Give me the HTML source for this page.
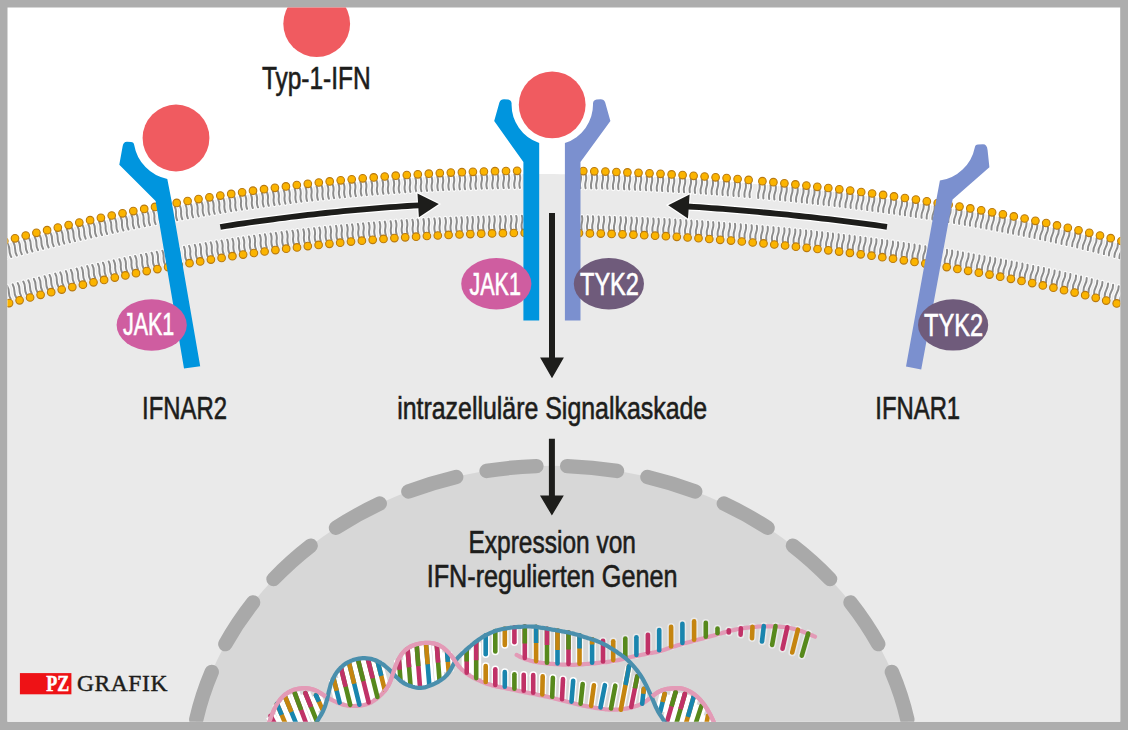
<!DOCTYPE html>
<html lang="de"><head><meta charset="utf-8"><title>Typ-1-IFN Signalweg</title>
<style>
html,body{margin:0;padding:0;background:#adadad;}
body{width:1128px;height:730px;overflow:hidden;}
svg{display:block;font-family:"Liberation Sans",sans-serif;}
</style></head><body>
<svg width="1128" height="730" viewBox="0 0 1128 730">
<defs><clipPath id="clip"><rect x="7.5" y="7.5" width="1112.7" height="714.2"/></clipPath></defs>
<rect x="7.5" y="7.5" width="1112.7" height="714.2" fill="#fff"/>
<g clip-path="url(#clip)">
<path d="M-20.0,251.3 L-12.0,249.1 L-4.1,246.9 L3.9,244.8 L11.8,242.6 L19.8,240.6 L27.8,238.5 L35.7,236.5 L43.7,234.5 L51.6,232.6 L59.6,230.7 L67.6,228.8 L75.5,227.0 L83.5,225.1 L91.4,223.4 L99.4,221.6 L107.3,219.9 L115.3,218.2 L123.3,216.6 L131.2,215.0 L139.2,213.4 L147.1,211.8 L155.1,210.3 L163.1,208.8 L171.0,207.3 L179.0,205.9 L186.9,204.5 L194.9,203.2 L202.9,201.8 L210.8,200.5 L218.8,199.3 L226.7,198.0 L234.7,196.8 L242.7,195.6 L250.6,194.5 L258.6,193.4 L266.5,192.3 L274.5,191.2 L282.4,190.2 L290.4,189.2 L298.4,188.3 L306.3,187.3 L314.3,186.5 L322.2,185.6 L330.2,184.8 L338.2,184.0 L346.1,183.2 L354.1,182.5 L362.0,181.8 L370.0,181.1 L378.0,180.4 L385.9,179.8 L393.9,179.3 L401.8,178.7 L409.8,178.2 L417.8,177.7 L425.7,177.3 L433.7,176.8 L441.6,176.4 L449.6,176.1 L457.6,175.7 L465.5,175.5 L473.5,175.2 L481.4,174.9 L489.4,174.7 L497.3,174.6 L505.3,174.4 L513.3,174.3 L521.2,174.2 L529.2,174.1 L537.1,174.1 L545.1,174.1 L553.1,174.1 L561.0,174.2 L569.0,174.3 L576.9,174.4 L584.9,174.5 L592.9,174.7 L600.8,174.9 L608.8,175.1 L616.7,175.4 L624.7,175.7 L632.7,176.0 L640.6,176.3 L648.6,176.7 L656.5,177.0 L664.5,177.5 L672.4,177.9 L680.4,178.4 L688.4,178.8 L696.3,179.4 L704.3,179.9 L712.2,180.5 L720.2,181.1 L728.2,181.7 L736.1,182.3 L744.1,183.0 L752.0,183.7 L760.0,184.4 L768.0,185.1 L775.9,185.9 L783.9,186.6 L791.8,187.4 L799.8,188.3 L807.8,189.1 L815.7,190.0 L823.7,190.9 L831.6,191.8 L839.6,192.8 L847.6,193.7 L855.5,194.7 L863.5,195.8 L871.4,196.8 L879.4,197.9 L887.3,199.0 L895.3,200.1 L903.3,201.2 L911.2,202.4 L919.2,203.6 L927.1,204.8 L935.1,206.0 L943.1,207.3 L951.0,208.6 L959.0,209.9 L966.9,211.3 L974.9,212.7 L982.9,214.1 L990.8,215.5 L998.8,217.0 L1006.7,218.5 L1014.7,220.0 L1022.7,221.6 L1030.6,223.2 L1038.6,224.9 L1046.5,226.6 L1054.5,228.3 L1062.4,230.1 L1070.4,231.9 L1078.4,233.7 L1086.3,235.6 L1094.3,237.6 L1102.2,239.6 L1110.2,241.6 L1118.2,243.7 L1126.1,245.9 L1134.1,248.1 L1142.0,250.3 L1150.0,252.7 L1150,760 L-20,760 Z" fill="#eaeaea"/>
<ellipse cx="551.8" cy="781.5" rx="362.6" ry="315.7" fill="#d7d7d7"/>
<path d="M551.8,465.8 A362.6,315.7 0 0 1 914.4,781.5" fill="none" stroke="#a9a9a9" stroke-width="14.4" stroke-linecap="round" stroke-dasharray="50 31" stroke-dashoffset="-15.5"/>
<path d="M551.8,465.8 A362.6,315.7 0 0 0 189.19999999999993,781.5" fill="none" stroke="#a9a9a9" stroke-width="14.4" stroke-linecap="round" stroke-dasharray="50 31" stroke-dashoffset="-15.5"/>
<path d="M270.6,715.8L276.0,726.0M277.0,703.8L286.4,726.0M284.8,696.0L298.0,728.0M294.8,693.1L307.5,727.0M305.4,693.1L316.7,720.8M316.0,695.2L322.4,709.4M333.7,679.0L339.6,702.6M341.1,668.5L350.2,704.9M349.0,662.8L359.4,704.7M358.0,659.8L368.7,702.4M368.0,659.4L377.4,697.0M377.8,662.1L384.7,689.7M398.9,659.8L400.5,679.9M407.6,649.4L410.5,685.1M416.7,645.3L420.0,686.9M426.0,643.8L429.3,684.8M436.8,645.2L439.5,680.0M447.1,652.1L448.7,671.7M466.7,650.3L466.7,672.7M476.2,642.5L476.2,678.1M664.7,693.8L660.3,711.4M675.6,692.2L666.4,724.0M684.9,693.8L676.2,724.0M693.7,696.6L685.8,724.0M701.4,705.9L695.5,724.0M707.9,715.8L706.4,724.0" fill="none" stroke="#fff" stroke-opacity="1.0" stroke-width="10.0" stroke-linecap="butt"/>
<path d="M485.7,635.3L485.7,654.3M495.3,631.0L495.3,651.5M504.8,628.5L504.8,645.0M514.4,627.3L514.4,642.2M524.8,626.5L524.8,658.0M536.1,626.9L536.1,661.1M547.0,628.7L547.0,662.7M557.5,630.5L557.5,663.5M568.5,632.6L568.5,664.0M579.5,635.4L579.5,663.7M592.1,639.4L592.1,662.7M485.7,666.0L485.7,682.0M495.3,669.3L495.3,684.9M504.8,672.0L504.8,686.8M514.4,674.2L514.4,688.8M523.7,674.8L523.7,690.8M533.2,675.0L533.2,692.7M542.7,676.4L542.3,694.5M552.9,677.8L552.2,696.8M563.0,679.1L562.0,699.2M573.2,680.8L571.5,701.6M582.7,684.1L580.6,703.8M593.9,685.2L591.1,705.9M604.9,685.2L600.5,707.5M615.3,685.7L611.0,708.5M629.0,666.4L620.8,709.7M637.3,676.3L631.2,707.0M643.8,688.9L642.2,703.7" fill="none" stroke="#fff" stroke-opacity="0.9" stroke-width="7.4" stroke-linecap="butt"/>
<path d="M603.0,640.8L603.0,661.4M613.2,641.3L613.2,660.1M625.3,638.6L625.3,657.3M636.4,637.3L636.4,654.9M647.9,634.8L647.9,652.6M659.2,630.1L659.2,650.3M671.1,626.7L671.1,646.5M682.4,623.8L682.4,643.0M694.1,621.4L694.1,639.8M705.8,622.8L705.8,636.7M717.5,628.6L717.5,633.3M728.8,632.5L728.8,630.2M740.9,628.3L740.6,634.7M752.5,626.7L752.0,638.2M763.8,626.1L762.0,641.5M775.5,626.1L772.1,644.9M787.3,627.3L782.5,648.7M797.9,629.7L792.2,652.5M808.2,633.5L801.8,655.7" fill="none" stroke="#fff" stroke-opacity="0.45" stroke-width="7.6" stroke-linecap="round"/>
<g fill="#fff"><circle cx="485.7" cy="654.3" r="3.7"/><circle cx="495.3" cy="651.5" r="3.7"/><circle cx="504.8" cy="645.0" r="3.7"/><circle cx="514.4" cy="642.2" r="3.7"/><circle cx="485.7" cy="666.0" r="3.7"/><circle cx="495.3" cy="669.3" r="3.7"/><circle cx="504.8" cy="672.0" r="3.7"/><circle cx="514.4" cy="674.2" r="3.7"/><circle cx="523.7" cy="674.8" r="3.7"/><circle cx="533.2" cy="675.0" r="3.7"/><circle cx="542.7" cy="676.4" r="3.7"/><circle cx="552.9" cy="677.8" r="3.7"/><circle cx="563.0" cy="679.1" r="3.7"/><circle cx="573.2" cy="680.8" r="3.7"/><circle cx="582.7" cy="684.1" r="3.7"/><circle cx="593.9" cy="685.2" r="3.7"/><circle cx="604.9" cy="685.2" r="3.7"/><circle cx="615.3" cy="685.7" r="3.7"/></g>
<path d="M516.6,654.9 L518.6,656.0 L520.6,657.0 L522.6,657.9 L524.6,658.8 L526.5,659.5 L528.5,660.1 L530.5,660.7 L532.5,661.1 L534.5,661.6 L536.5,662.0 L538.5,662.4 L540.5,662.7 L542.5,663.0 L544.5,663.2 L546.4,663.4 L548.4,663.6 L550.4,663.8 L552.4,663.9 L554.4,664.1 L556.4,664.2 L558.4,664.3 L560.4,664.5 L562.4,664.6 L564.3,664.7 L566.3,664.7 L568.3,664.8 L570.3,664.8 L572.3,664.8 L574.3,664.8 L576.3,664.7 L578.3,664.6 L580.3,664.5 L582.2,664.3 L584.2,664.1 L586.2,664.0 L588.2,663.8 L590.2,663.6 L592.2,663.4 L594.2,663.3 L596.2,663.1 L598.2,662.9 L600.2,662.7 L602.1,662.5 L604.1,662.3 L606.1,662.1 L608.1,661.8 L610.1,661.5 L612.1,661.2 L614.1,660.9 L616.1,660.5 L618.1,660.1 L620.0,659.6 L622.0,659.1 L624.0,658.6 L626.0,658.1 L628.0,657.6 L630.0,657.2 L632.0,656.8 L634.0,656.4 L636.0,656.0 L637.9,655.6 L639.9,655.2 L641.9,654.8 L643.9,654.4 L645.9,654.0 L647.9,653.6 L649.9,653.2 L651.9,652.9 L653.9,652.5 L655.9,652.1 L657.8,651.6 L659.8,651.1 L661.8,650.6 L663.8,650.0 L665.8,649.3 L667.8,648.6 L669.8,647.9 L671.8,647.2 L673.8,646.6 L675.7,646.0 L677.7,645.3 L679.7,644.7 L681.7,644.2 L683.7,643.6 L685.7,643.0 L687.7,642.5 L689.7,642.0 L691.7,641.4 L693.7,640.9 L695.6,640.4 L697.6,639.8 L699.6,639.3 L701.6,638.8 L703.6,638.3 L705.6,637.7 L707.6,637.2 L709.6,636.6 L711.6,636.0 L713.5,635.5 L715.5,634.9 L717.5,634.3 L719.5,633.7 L721.5,633.2 L723.5,632.6 L725.5,632.1 L727.5,631.5 L729.5,631.0 L731.4,630.5 L733.4,630.1 L735.4,629.6 L737.4,629.2 L739.4,628.8 L741.4,628.5 L743.4,628.2 L745.4,627.9 L747.4,627.6 L749.4,627.4 L751.3,627.1 L753.3,627.0 L755.3,626.8 L757.3,626.7 L759.3,626.5 L761.3,626.4 L763.3,626.4 L765.3,626.3 L767.3,626.3 L769.2,626.3 L771.2,626.3 L773.2,626.3 L775.2,626.4 L777.2,626.5 L779.2,626.6 L781.2,626.8 L783.2,627.0 L785.2,627.2 L787.1,627.5 L789.1,627.9 L791.1,628.3 L793.1,628.7 L795.1,629.2 L797.1,629.8 L799.1,630.4 L801.1,631.0 L803.1,631.8 L805.1,632.5 L807.0,633.3 L809.0,634.1 L811.0,635.0 L813.0,635.8 L815.0,636.7" fill="none" stroke="#e39ab6" stroke-width="4.2" stroke-linecap="round" stroke-linejoin="round"/>
<path d="M262.0,740.0 L264.0,735.2 L266.0,730.4 L268.0,725.4 L270.0,720.1 L272.0,714.7 L274.0,709.9 L276.0,705.9 L278.0,702.5 L280.0,699.7 L282.0,697.5 L284.0,695.5 L285.9,694.0 L287.9,692.6 L289.9,691.5 L291.9,690.6 L293.9,689.8 L295.9,689.2 L297.9,688.8 L299.9,688.5 L301.9,688.3 L303.9,688.2 L305.9,688.2 L307.9,688.4 L309.9,688.7 L311.9,689.2 L313.9,689.8 L315.9,690.6 L317.9,691.5 L319.9,692.7 L321.9,694.0 L323.9,695.2 L325.9,696.5 L327.9,697.7 L329.9,698.8 L331.8,699.9 L333.8,700.9 L335.8,701.9 L337.8,702.8 L339.8,703.6 L341.8,704.3 L343.8,704.9 L345.8,705.3 L347.8,705.7 L349.8,705.9 L351.8,706.0 L353.8,706.0 L355.8,705.9 L357.8,705.8 L359.8,705.6 L361.8,705.3 L363.8,705.0 L365.8,704.5 L367.8,703.8 L369.8,703.0 L371.8,702.0 L373.8,700.8 L375.8,699.4 L377.7,697.8 L379.7,696.1 L381.7,694.2 L383.7,692.1 L385.7,689.7 L387.7,686.7 L389.7,682.7 L391.7,677.5 L393.7,671.3 L395.7,665.6 L397.7,660.9 L399.7,657.2 L401.7,654.2 L403.7,651.8 L405.7,649.8 L407.7,648.3 L409.7,647.0 L411.7,646.0 L413.7,645.2 L415.7,644.5 L417.7,644.0 L419.7,643.6 L421.7,643.2 L423.6,643.0 L425.6,642.8 L427.6,642.8 L429.6,642.9 L431.6,643.1 L433.6,643.4 L435.6,643.9 L437.6,644.6 L439.6,645.5 L441.6,646.7 L443.6,648.1 L445.6,649.8 L447.6,651.7 L449.6,653.9 L451.6,656.3 L453.6,659.0 L455.6,661.9 L457.6,664.7 L459.6,667.2 L461.6,669.4 L463.6,671.2 L465.6,672.8 L467.6,674.3 L469.5,675.5 L471.5,676.7 L473.5,677.8 L475.5,678.8 L477.5,679.8 L479.5,680.7 L481.5,681.6 L483.5,682.4 L485.5,683.2 L487.5,683.9 L489.5,684.5 L491.5,685.1 L493.5,685.6 L495.5,686.1 L497.5,686.6 L499.5,687.0 L501.5,687.4 L503.5,687.8 L505.5,688.2 L507.5,688.6 L509.5,689.0 L511.5,689.4 L513.4,689.8 L515.4,690.3 L517.4,690.7 L519.4,691.1 L521.4,691.5 L523.4,692.0 L525.4,692.4 L527.4,692.7 L529.4,693.1 L531.4,693.5 L533.4,693.9 L535.4,694.3 L537.4,694.7 L539.4,695.1 L541.4,695.5 L543.4,695.9 L545.4,696.4 L547.4,696.8 L549.4,697.3 L551.4,697.8 L553.4,698.2 L555.4,698.7 L557.4,699.2 L559.3,699.7 L561.3,700.3 L563.3,700.8 L565.3,701.3 L567.3,701.8 L569.3,702.3 L571.3,702.8 L573.3,703.3 L575.3,703.8 L577.3,704.2 L579.3,704.7 L581.3,705.1 L583.3,705.6 L585.3,706.0 L587.3,706.4 L589.3,706.8 L591.3,707.2 L593.3,707.5 L595.3,707.9 L597.3,708.2 L599.3,708.5 L601.3,708.8 L603.3,709.0 L605.2,709.3 L607.2,709.5 L609.2,709.6 L611.2,709.7 L613.2,709.7 L615.2,709.7 L617.2,709.6 L619.2,709.5 L621.2,709.3 L623.2,709.0 L625.2,708.7 L627.2,708.4 L629.2,707.9 L631.2,707.5 L633.2,706.9 L635.2,706.3 L637.2,705.7 L639.2,704.9 L641.2,704.0 L643.2,703.0 L645.2,701.7 L647.2,700.3 L649.2,698.8 L651.1,697.2 L653.1,695.6 L655.1,694.1 L657.1,692.7 L659.1,691.6 L661.1,690.6 L663.1,689.9 L665.1,689.3 L667.1,688.9 L669.1,688.6 L671.1,688.4 L673.1,688.2 L675.1,688.1 L677.1,688.1 L679.1,688.2 L681.1,688.4 L683.1,688.8 L685.1,689.4 L687.1,690.2 L689.1,691.1 L691.1,692.2 L693.1,693.5 L695.1,695.0 L697.0,696.6 L699.0,698.5 L701.0,700.7 L703.0,703.1 L705.0,705.8 L707.0,708.9 L709.0,712.3 L711.0,716.1 L713.0,720.3 L715.0,724.9 L717.0,729.9 L719.0,735.0" fill="none" stroke="#e39ab6" stroke-width="4.2" stroke-linejoin="round"/>
<g fill="none" stroke-width="4.6"><path d="M270.6,715.8L276.0,726.0" stroke="#c03267" stroke-linecap="round"/><path d="M277.0,703.8L286.4,726.0" stroke="#c5850f" stroke-linecap="round"/><path d="M277.0,703.8L281.7,714.9" stroke="#1985ae" stroke-linecap="butt"/><circle cx="277.0" cy="703.8" r="2.3" fill="#1985ae" stroke="none"/><path d="M284.8,696.0L298.0,728.0" stroke="#1985ae" stroke-linecap="round"/><path d="M284.8,696.0L291.4,712.0" stroke="#c5850f" stroke-linecap="butt"/><circle cx="284.8" cy="696.0" r="2.3" fill="#c5850f" stroke="none"/><path d="M294.8,693.1L307.5,727.0" stroke="#c03267" stroke-linecap="round"/><path d="M294.8,693.1L301.1,710.0" stroke="#57891c" stroke-linecap="butt"/><circle cx="294.8" cy="693.1" r="2.3" fill="#57891c" stroke="none"/><path d="M305.4,693.1L316.7,720.8" stroke="#57891c" stroke-linecap="round"/><path d="M305.4,693.1L311.0,707.0" stroke="#c03267" stroke-linecap="butt"/><circle cx="305.4" cy="693.1" r="2.3" fill="#c03267" stroke="none"/><path d="M316.0,695.2L322.4,709.4" stroke="#c5850f" stroke-linecap="round"/><path d="M316.0,695.2L318.9,701.6" stroke="#1985ae" stroke-linecap="butt"/><circle cx="316.0" cy="695.2" r="2.3" fill="#1985ae" stroke="none"/><path d="M333.7,679.0L339.6,702.6" stroke="#1985ae" stroke-linecap="round"/><path d="M333.7,679.0L336.7,690.8" stroke="#c5850f" stroke-linecap="butt"/><circle cx="333.7" cy="679.0" r="2.3" fill="#c5850f" stroke="none"/><path d="M341.1,668.5L350.2,704.9" stroke="#57891c" stroke-linecap="round"/><path d="M341.1,668.5L345.6,686.7" stroke="#c03267" stroke-linecap="butt"/><circle cx="341.1" cy="668.5" r="2.3" fill="#c03267" stroke="none"/><path d="M349.0,662.8L359.4,704.7" stroke="#1985ae" stroke-linecap="round"/><path d="M349.0,662.8L354.2,683.7" stroke="#c5850f" stroke-linecap="butt"/><circle cx="349.0" cy="662.8" r="2.3" fill="#c5850f" stroke="none"/><path d="M358.0,659.8L368.7,702.4" stroke="#c03267" stroke-linecap="round"/><path d="M358.0,659.8L363.4,681.1" stroke="#57891c" stroke-linecap="butt"/><circle cx="358.0" cy="659.8" r="2.3" fill="#57891c" stroke="none"/><path d="M368.0,659.4L377.4,697.0" stroke="#57891c" stroke-linecap="round"/><path d="M368.0,659.4L372.7,678.2" stroke="#c03267" stroke-linecap="butt"/><circle cx="368.0" cy="659.4" r="2.3" fill="#c03267" stroke="none"/><path d="M377.8,662.1L384.7,689.7" stroke="#c5850f" stroke-linecap="round"/><path d="M377.8,662.1L381.3,675.9" stroke="#1985ae" stroke-linecap="butt"/><circle cx="377.8" cy="662.1" r="2.3" fill="#1985ae" stroke="none"/><path d="M398.9,659.8L400.5,679.9" stroke="#57891c" stroke-linecap="round"/><path d="M398.9,659.8L399.7,669.8" stroke="#c03267" stroke-linecap="butt"/><circle cx="398.9" cy="659.8" r="2.3" fill="#c03267" stroke="none"/><path d="M407.6,649.4L410.5,685.1" stroke="#57891c" stroke-linecap="round"/><path d="M407.6,649.4L409.1,667.2" stroke="#c03267" stroke-linecap="butt"/><circle cx="407.6" cy="649.4" r="2.3" fill="#c03267" stroke="none"/><path d="M416.7,645.3L420.0,686.9" stroke="#c03267" stroke-linecap="round"/><path d="M416.7,645.3L418.3,666.1" stroke="#57891c" stroke-linecap="butt"/><circle cx="416.7" cy="645.3" r="2.3" fill="#57891c" stroke="none"/><path d="M426.0,643.8L429.3,684.8" stroke="#1985ae" stroke-linecap="round"/><path d="M426.0,643.8L427.7,664.3" stroke="#c5850f" stroke-linecap="butt"/><circle cx="426.0" cy="643.8" r="2.3" fill="#c5850f" stroke="none"/><path d="M436.8,645.2L439.5,680.0" stroke="#57891c" stroke-linecap="round"/><path d="M436.8,645.2L438.1,662.6" stroke="#c03267" stroke-linecap="butt"/><circle cx="436.8" cy="645.2" r="2.3" fill="#c03267" stroke="none"/><path d="M447.1,652.1L448.7,671.7" stroke="#c5850f" stroke-linecap="round"/><path d="M447.1,652.1L447.9,661.9" stroke="#1985ae" stroke-linecap="butt"/><circle cx="447.1" cy="652.1" r="2.3" fill="#1985ae" stroke="none"/><path d="M466.7,650.3L466.7,672.7" stroke="#c03267" stroke-linecap="round"/><path d="M466.7,650.3L466.7,661.5" stroke="#57891c" stroke-linecap="butt"/><circle cx="466.7" cy="650.3" r="2.3" fill="#57891c" stroke="none"/><path d="M476.2,642.5L476.2,678.1" stroke="#57891c" stroke-linecap="round"/><path d="M476.2,642.5L476.2,660.3" stroke="#c03267" stroke-linecap="butt"/><circle cx="476.2" cy="642.5" r="2.3" fill="#c03267" stroke="none"/><path d="M485.7,635.3L485.7,654.3" stroke="#1985ae" stroke-linecap="round"/><path d="M495.3,631.0L495.3,651.5" stroke="#57891c" stroke-linecap="round"/><path d="M504.8,628.5L504.8,645.0" stroke="#c5850f" stroke-linecap="round"/><path d="M514.4,627.3L514.4,642.2" stroke="#c03267" stroke-linecap="round"/><path d="M524.8,626.5L524.8,658.0" stroke="#c03267" stroke-linecap="round"/><path d="M524.8,626.5L524.8,643.4" stroke="#57891c" stroke-linecap="butt"/><circle cx="524.8" cy="626.5" r="2.3" fill="#57891c" stroke="none"/><path d="M536.1,626.9L536.1,661.1" stroke="#c5850f" stroke-linecap="round"/><path d="M536.1,626.9L536.1,642.9" stroke="#1985ae" stroke-linecap="butt"/><circle cx="536.1" cy="626.9" r="2.3" fill="#1985ae" stroke="none"/><path d="M547.0,628.7L547.0,662.7" stroke="#57891c" stroke-linecap="round"/><path d="M547.0,628.7L547.0,645.1" stroke="#c03267" stroke-linecap="butt"/><circle cx="547.0" cy="628.7" r="2.3" fill="#c03267" stroke="none"/><path d="M557.5,630.5L557.5,663.5" stroke="#1985ae" stroke-linecap="round"/><path d="M557.5,630.5L557.5,650.0" stroke="#c5850f" stroke-linecap="butt"/><circle cx="557.5" cy="630.5" r="2.3" fill="#c5850f" stroke="none"/><path d="M568.5,632.6L568.5,664.0" stroke="#c03267" stroke-linecap="round"/><path d="M568.5,632.6L568.5,649.5" stroke="#57891c" stroke-linecap="butt"/><circle cx="568.5" cy="632.6" r="2.3" fill="#57891c" stroke="none"/><path d="M579.5,635.4L579.5,663.7" stroke="#c5850f" stroke-linecap="round"/><path d="M579.5,635.4L579.5,648.4" stroke="#1985ae" stroke-linecap="butt"/><circle cx="579.5" cy="635.4" r="2.3" fill="#1985ae" stroke="none"/><path d="M592.1,639.4L592.1,662.7" stroke="#1985ae" stroke-linecap="round"/><path d="M592.1,639.4L592.1,644.5" stroke="#c5850f" stroke-linecap="butt"/><circle cx="592.1" cy="639.4" r="2.3" fill="#c5850f" stroke="none"/><path d="M485.7,666.0L485.7,682.0" stroke="#c5850f" stroke-linecap="round"/><path d="M495.3,669.3L495.3,684.9" stroke="#c03267" stroke-linecap="round"/><path d="M504.8,672.0L504.8,686.8" stroke="#1985ae" stroke-linecap="round"/><path d="M514.4,674.2L514.4,688.8" stroke="#57891c" stroke-linecap="round"/><path d="M523.7,674.8L523.7,690.8" stroke="#c03267" stroke-linecap="round"/><path d="M533.2,675.0L533.2,692.7" stroke="#c03267" stroke-linecap="round"/><path d="M542.7,676.4L542.3,694.5" stroke="#c5850f" stroke-linecap="round"/><path d="M552.9,677.8L552.2,696.8" stroke="#57891c" stroke-linecap="round"/><path d="M563.0,679.1L562.0,699.2" stroke="#c03267" stroke-linecap="round"/><path d="M573.2,680.8L571.5,701.6" stroke="#1985ae" stroke-linecap="round"/><path d="M582.7,684.1L580.6,703.8" stroke="#57891c" stroke-linecap="round"/><path d="M593.9,685.2L591.1,705.9" stroke="#c5850f" stroke-linecap="round"/><path d="M604.9,685.2L600.5,707.5" stroke="#1985ae" stroke-linecap="round"/><path d="M615.3,685.7L611.0,708.5" stroke="#57891c" stroke-linecap="round"/><path d="M629.0,666.4L620.8,709.7" stroke="#c5850f" stroke-linecap="round"/><path d="M629.0,666.4L625.5,685.0" stroke="#1985ae" stroke-linecap="butt"/><circle cx="629.0" cy="666.4" r="2.3" fill="#1985ae" stroke="none"/><path d="M637.3,676.3L631.2,707.0" stroke="#c03267" stroke-linecap="round"/><path d="M637.3,676.3L634.9,688.4" stroke="#57891c" stroke-linecap="butt"/><circle cx="637.3" cy="676.3" r="2.3" fill="#57891c" stroke="none"/><path d="M643.8,688.9L642.2,703.7" stroke="#1985ae" stroke-linecap="round"/><path d="M643.8,688.9L643.3,693.8" stroke="#c5850f" stroke-linecap="butt"/><circle cx="643.8" cy="688.9" r="2.3" fill="#c5850f" stroke="none"/><path d="M664.7,693.8L660.3,711.4" stroke="#1985ae" stroke-linecap="round"/><path d="M664.7,693.8L662.6,702.0" stroke="#c5850f" stroke-linecap="butt"/><circle cx="664.7" cy="693.8" r="2.3" fill="#c5850f" stroke="none"/><path d="M675.6,692.2L666.4,724.0" stroke="#c03267" stroke-linecap="round"/><path d="M675.6,692.2L671.5,706.4" stroke="#57891c" stroke-linecap="butt"/><circle cx="675.6" cy="692.2" r="2.3" fill="#57891c" stroke="none"/><path d="M684.9,693.8L676.2,724.0" stroke="#57891c" stroke-linecap="round"/><path d="M684.9,693.8L680.5,709.2" stroke="#c03267" stroke-linecap="butt"/><circle cx="684.9" cy="693.8" r="2.3" fill="#c03267" stroke="none"/><path d="M693.7,696.6L685.8,724.0" stroke="#c5850f" stroke-linecap="round"/><path d="M693.7,696.6L687.9,716.8" stroke="#1985ae" stroke-linecap="butt"/><circle cx="693.7" cy="696.6" r="2.3" fill="#1985ae" stroke="none"/><path d="M701.4,705.9L695.5,724.0" stroke="#57891c" stroke-linecap="round"/><path d="M707.9,715.8L706.4,724.0" stroke="#c5850f" stroke-linecap="round"/><path d="M603.0,640.8L603.0,661.4" stroke="#c03267" stroke-linecap="round"/><path d="M613.2,641.3L613.2,660.1" stroke="#c5850f" stroke-linecap="round"/><path d="M625.3,638.6L625.3,657.3" stroke="#57891c" stroke-linecap="round"/><path d="M636.4,637.3L636.4,654.9" stroke="#1985ae" stroke-linecap="round"/><path d="M647.9,634.8L647.9,652.6" stroke="#c03267" stroke-linecap="round"/><path d="M659.2,630.1L659.2,650.3" stroke="#1985ae" stroke-linecap="round"/><path d="M671.1,626.7L671.1,646.5" stroke="#c5850f" stroke-linecap="round"/><path d="M682.4,623.8L682.4,643.0" stroke="#1985ae" stroke-linecap="round"/><path d="M694.1,621.4L694.1,639.8" stroke="#c5850f" stroke-linecap="round"/><path d="M705.8,622.8L705.8,636.7" stroke="#57891c" stroke-linecap="round"/><path d="M717.5,628.6L717.5,633.3" stroke="#57891c" stroke-linecap="round"/><path d="M728.8,632.5L728.8,630.2" stroke="#c03267" stroke-linecap="round"/><path d="M740.9,628.3L740.6,634.7" stroke="#c03267" stroke-linecap="round"/><path d="M752.5,626.7L752.0,638.2" stroke="#c5850f" stroke-linecap="round"/><path d="M763.8,626.1L762.0,641.5" stroke="#1985ae" stroke-linecap="round"/><path d="M775.5,626.1L772.1,644.9" stroke="#57891c" stroke-linecap="round"/><path d="M787.3,627.3L782.5,648.7" stroke="#c03267" stroke-linecap="round"/><path d="M797.9,629.7L792.2,652.5" stroke="#c5850f" stroke-linecap="round"/><path d="M808.2,633.5L801.8,655.7" stroke="#57891c" stroke-linecap="round"/></g>
<path d="M309.0,740.0 L311.0,734.8 L313.0,729.9 L315.0,725.5 L317.0,721.7 L319.0,718.3 L321.0,714.9 L323.0,711.2 L325.0,706.4 L327.0,699.9 L328.9,691.2 L330.9,683.8 L332.9,678.9 L334.9,675.2 L336.9,672.1 L338.9,669.6 L340.9,667.5 L342.9,665.7 L344.9,664.1 L346.9,662.9 L348.9,661.8 L350.9,660.9 L352.9,660.1 L354.9,659.5 L356.9,659.0 L358.9,658.6 L360.9,658.4 L362.9,658.2 L364.8,658.2 L366.8,658.3 L368.8,658.5 L370.8,658.9 L372.8,659.4 L374.8,660.0 L376.8,660.8 L378.8,661.8 L380.8,662.9 L382.8,664.3 L384.8,665.8 L386.8,667.5 L388.8,669.3 L390.8,671.3 L392.8,673.3 L394.8,675.4 L396.8,677.4 L398.8,679.3 L400.7,681.0 L402.7,682.4 L404.7,683.6 L406.7,684.6 L408.7,685.4 L410.7,686.1 L412.7,686.7 L414.7,687.2 L416.7,687.6 L418.7,687.9 L420.7,687.9 L422.7,687.7 L424.7,687.4 L426.7,686.8 L428.7,686.1 L430.7,685.3 L432.7,684.5 L434.7,683.6 L436.6,682.7 L438.6,681.6 L440.6,680.3 L442.6,678.9 L444.6,677.3 L446.6,675.3 L448.6,672.9 L450.6,669.9 L452.6,666.1 L454.6,662.3 L456.6,659.3 L458.6,656.9 L460.6,654.9 L462.6,653.0 L464.6,651.2 L466.6,649.4 L468.6,647.7 L470.6,646.0 L472.5,644.3 L474.5,642.7 L476.5,641.2 L478.5,639.8 L480.5,638.4 L482.5,637.1 L484.5,635.9 L486.5,634.8 L488.5,633.8 L490.5,632.9 L492.5,632.1 L494.5,631.3 L496.5,630.6 L498.5,630.0 L500.5,629.5 L502.5,629.0 L504.5,628.6 L506.5,628.3 L508.5,628.0 L510.4,627.7 L512.4,627.5 L514.4,627.3 L516.4,627.1 L518.4,626.9 L520.4,626.8 L522.4,626.7 L524.4,626.5 L526.4,626.5 L528.4,626.5 L530.4,626.5 L532.4,626.6 L534.4,626.7 L536.4,627.0 L538.4,627.2 L540.4,627.6 L542.4,627.9 L544.4,628.2 L546.3,628.5 L548.3,628.9 L550.3,629.2 L552.3,629.6 L554.3,629.9 L556.3,630.3 L558.3,630.6 L560.3,631.0 L562.3,631.4 L564.3,631.7 L566.3,632.1 L568.3,632.5 L570.3,633.0 L572.3,633.4 L574.3,633.9 L576.3,634.5 L578.3,635.1 L580.3,635.6 L582.2,636.3 L584.2,636.9 L586.2,637.5 L588.2,638.2 L590.2,638.8 L592.2,639.4 L594.2,640.1 L596.2,640.8 L598.2,641.6 L600.2,642.4 L602.2,643.3 L604.2,644.3 L606.2,645.4 L608.2,646.5 L610.2,647.7 L612.2,649.0 L614.2,650.3 L616.2,651.6 L618.1,652.9 L620.1,654.2 L622.1,655.6 L624.1,657.1 L626.1,658.7 L628.1,660.5 L630.1,662.5 L632.1,664.6 L634.1,666.9 L636.1,669.3 L638.1,671.9 L640.1,674.7 L642.1,677.9 L644.1,681.4 L646.1,685.2 L648.1,689.3 L650.1,693.6 L652.1,698.0 L654.0,702.7 L656.0,707.3 L658.0,711.3 L660.0,714.6 L662.0,717.7 L664.0,720.8 L666.0,723.9 L668.0,727.2 L670.0,730.6 L672.0,734.0" fill="none" stroke="#4a8fad" stroke-width="4.2" stroke-linejoin="round"/>
<path d="M262.0,740.0 L263.9,735.4 L265.9,730.7 L267.8,725.8 L269.8,720.7 L271.7,715.4 L273.6,710.7 L275.6,706.6 L277.5,703.2 L279.5,700.4 L281.4,698.1 L283.3,696.1 L285.3,694.5 L287.2,693.1 L289.2,691.9 L291.1,690.9 L293.0,690.1 L295.0,689.5 L296.9,689.0 L298.8,688.6 L300.8,688.4 L302.7,688.2 L304.7,688.2 L306.6,688.3 L308.5,688.5 L310.5,688.8 L312.4,689.3 L314.4,689.9 L316.3,690.7 L318.2,691.8 L320.2,692.9 L322.1,694.1 L324.1,695.4 L326.0,696.6" fill="none" stroke="#e39ab6" stroke-width="4.2" stroke-linejoin="round"/>
<path d="M384.0,691.8 L385.9,689.4 L387.9,686.4 L389.8,682.4 L391.8,677.2 L393.7,671.2 L395.7,665.6 L397.6,661.0 L399.6,657.4 L401.5,654.4 L403.5,652.0 L405.4,650.1 L407.4,648.5 L409.3,647.2 L411.3,646.2 L413.2,645.4 L415.2,644.7 L417.1,644.1 L419.1,643.7 L421.0,643.3 L423.0,643.0 L424.9,642.9 L426.9,642.8 L428.8,642.8 L430.8,643.0 L432.7,643.2 L434.7,643.7 L436.6,644.2 L438.6,645.0 L440.5,646.0 L442.5,647.2 L444.4,648.7 L446.4,650.5 L448.3,652.4 L450.3,654.6 L452.2,657.1 L454.2,659.8 L456.1,662.7 L458.1,665.3 L460.0,667.7" fill="none" stroke="#e39ab6" stroke-width="4.2" stroke-linejoin="round"/>
<path d="M652.0,696.5 L654.0,694.9 L655.9,693.5 L657.9,692.2 L659.9,691.2 L661.9,690.3 L663.8,689.7 L665.8,689.2 L667.8,688.8 L669.7,688.6 L671.7,688.3 L673.7,688.2 L675.6,688.1 L677.6,688.1 L679.6,688.2 L681.6,688.5 L683.5,688.9 L685.5,689.6 L687.5,690.4 L689.4,691.3 L691.4,692.4 L693.4,693.7 L695.4,695.2 L697.3,696.9 L699.3,698.8 L701.3,700.9 L703.2,703.4 L705.2,706.1 L707.2,709.1 L709.1,712.6 L711.1,716.3 L713.1,720.5 L715.1,725.1 L717.0,729.9 L719.0,735.0" fill="none" stroke="#e39ab6" stroke-width="4.2" stroke-linejoin="round"/>
<defs><path id="tails1" d="M-18.5,251.0Q-16.7,254.0 -16.7,257.6T-14.9,264.1M-13.5,249.6Q-11.7,252.6 -11.7,256.2T-9.9,262.7M-7.9,248.1Q-6.1,251.1 -6.1,254.6T-4.3,261.2M-2.9,246.7Q-1.1,249.7 -1.1,253.3T0.7,259.8M2.7,245.2Q4.5,248.2 4.5,251.7T6.2,258.3M7.7,243.8Q9.5,246.9 9.5,250.4T11.3,257.0M13.4,242.3Q15.1,245.4 15.1,248.9T16.8,255.5M18.4,241.0Q20.2,244.1 20.1,247.6T21.8,254.2M24.0,239.6Q25.8,242.6 25.7,246.2T27.4,252.7M29.1,238.3Q30.8,241.3 30.8,244.9T32.4,251.5M34.7,236.9Q36.5,239.9 36.4,243.5T38.0,250.1M39.8,235.6Q41.5,238.7 41.4,242.2T43.1,248.8M45.4,234.2Q47.1,237.3 47.0,240.8T48.6,247.4M50.5,233.0Q52.2,236.0 52.1,239.6T53.7,246.2M56.1,231.6Q57.8,234.7 57.7,238.2T59.3,244.8M61.2,230.4Q62.9,233.5 62.8,237.0T64.3,243.6M66.8,229.1Q68.5,232.2 68.4,235.7T69.9,242.3M71.9,227.9Q73.6,231.0 73.5,234.5T75.0,241.1M77.6,226.6Q79.3,229.7 79.1,233.2T80.6,239.8M82.7,225.4Q84.3,228.5 84.2,232.1T85.7,238.7M88.3,224.2Q90.0,227.3 89.8,230.8T91.3,237.4M93.4,223.0Q95.1,226.1 94.9,229.7T96.4,236.3M99.1,221.8Q100.7,224.9 100.5,228.4T102.0,235.1M104.2,220.7Q105.8,223.8 105.6,227.3T107.1,234.0M109.9,219.5Q111.5,222.6 111.3,226.1T112.7,232.8M115.0,218.4Q116.6,221.5 116.4,225.1T117.8,231.7M120.7,217.2Q122.3,220.4 122.0,223.9T123.4,230.5M125.8,216.2Q127.4,219.3 127.1,222.8T128.5,229.5M131.5,215.0Q133.1,218.2 132.8,221.7T134.1,228.3M136.6,214.0Q138.2,217.1 137.9,220.7T139.2,227.3M142.3,212.9Q143.9,216.0 143.6,219.5T144.9,226.2M147.4,211.9Q149.0,215.0 148.7,218.5T150.0,225.2M153.1,210.8Q154.7,213.9 154.4,217.5T155.6,224.1M158.2,209.8Q159.8,213.0 159.5,216.5T160.7,223.2M163.9,208.7Q165.5,211.9 165.2,215.4T166.4,222.1M169.0,207.8Q170.6,211.0 170.3,214.5T171.5,221.2M174.8,206.8Q176.3,209.9 176.0,213.5T177.2,220.2M179.9,205.9Q181.4,209.0 181.1,212.6T182.3,219.2M185.6,204.8Q187.1,208.0 186.8,211.6T187.9,218.3M190.8,204.0Q192.3,207.2 191.9,210.7T193.1,217.4M196.5,203.0Q198.0,206.2 197.6,209.7T198.7,216.4M201.6,202.1Q203.1,205.3 202.7,208.8T203.9,215.5M207.4,201.2Q208.8,204.4 208.5,207.9T209.5,214.6M212.5,200.4Q214.0,203.6 213.6,207.1T214.7,213.8M218.2,199.4Q219.7,202.6 219.3,206.2T220.4,212.9M223.4,198.6Q224.8,201.8 224.4,205.3T225.5,212.1M229.1,197.7Q230.6,201.0 230.2,204.5T231.2,211.2M234.3,197.0Q235.7,200.2 235.3,203.7T236.3,210.4M240.0,196.1Q241.5,199.3 241.0,202.8T242.0,209.6M245.2,195.4Q246.6,198.6 246.2,202.1T247.1,208.8M250.9,194.5Q252.4,197.8 251.9,201.3T252.8,208.0M256.1,193.8Q257.5,197.0 257.0,200.5T258.0,207.3M261.9,193.0Q263.3,196.3 262.8,199.8T263.7,206.5M267.0,192.3Q268.4,195.6 267.9,199.1T268.8,205.8M272.8,191.6Q274.2,194.8 273.7,198.3T274.5,205.0M277.9,190.9Q279.3,194.1 278.8,197.6T279.7,204.4M283.7,190.2Q285.1,193.4 284.6,196.9T285.4,203.7M288.9,189.5Q290.2,192.8 289.7,196.3T290.6,203.0M294.7,188.8Q296.0,192.1 295.5,195.6T296.3,202.3M299.8,188.2Q301.2,191.5 300.6,195.0T301.4,201.7M305.6,187.5Q306.9,190.8 306.4,194.3T307.1,201.0M310.8,186.9Q312.1,190.2 311.5,193.7T312.3,200.5M316.6,186.3Q317.9,189.6 317.3,193.1T318.0,199.8M321.7,185.7Q323.0,189.0 322.5,192.5T323.2,199.3M327.5,185.1Q328.8,188.4 328.2,191.9T328.9,198.7M332.7,184.6Q334.0,187.9 333.4,191.4T334.1,198.1M338.5,184.0Q339.8,187.3 339.1,190.8T339.8,197.6M343.7,183.5Q344.9,186.8 344.3,190.3T345.0,197.1M349.5,183.0Q350.7,186.3 350.1,189.8T350.7,196.5M354.6,182.5Q355.9,185.8 355.2,189.3T355.9,196.1M360.4,182.0Q361.7,185.3 361.0,188.8T361.6,195.5M365.6,181.6Q366.8,184.9 366.2,188.3T366.8,195.1M371.4,181.1Q372.6,184.4 372.0,187.8T372.5,194.6M376.6,180.7Q377.8,184.0 377.1,187.4T377.7,194.2M382.4,180.2Q383.6,183.5 382.9,187.0T383.4,193.8M387.6,179.8Q388.8,183.1 388.1,186.6T388.6,193.4M393.4,179.4Q394.6,182.7 393.9,186.2T394.3,193.0M398.6,179.0Q399.8,182.4 399.0,185.8T399.5,192.6M404.4,178.6Q405.5,182.0 404.8,185.4T405.3,192.2M409.6,178.3Q410.7,181.6 410.0,185.1T410.4,191.9M415.4,177.9Q416.5,181.3 415.8,184.7T416.2,191.5M420.6,177.6Q421.7,181.0 421.0,184.4T421.4,191.2M426.4,177.3Q427.5,180.7 426.7,184.1T427.1,190.9M431.6,177.0Q432.7,180.4 431.9,183.8T432.3,190.6M437.4,176.7Q438.5,180.1 437.7,183.5T438.0,190.3M442.6,176.5Q443.7,179.8 442.9,183.3T443.2,190.1M448.4,176.2Q449.5,179.6 448.7,183.0T449.0,189.8M453.6,176.0Q454.7,179.4 453.9,182.8T454.2,189.6M459.4,175.8Q460.5,179.1 459.7,182.6T459.9,189.4M464.6,175.6Q465.7,178.9 464.9,182.4T465.1,189.2M470.4,175.4Q471.5,178.7 470.6,182.2T470.9,189.0M475.6,175.2Q476.7,178.6 475.8,182.0T476.1,188.8M481.4,175.0Q482.5,178.4 481.6,181.8T481.8,188.6M486.6,174.9Q487.7,178.3 486.8,181.7T487.0,188.5M492.5,174.8Q493.5,178.1 492.6,181.6T492.8,188.4M497.7,174.6Q498.7,178.0 497.8,181.4T498.0,188.2M503.5,174.5Q504.5,177.9 503.6,181.3T503.7,188.1M508.7,174.5Q509.7,177.8 508.8,181.3T508.9,188.0M514.5,174.4Q515.5,177.8 514.6,181.2T514.7,188.0M519.7,174.3Q520.7,177.7 519.8,181.1T519.9,187.9M580.6,174.6Q581.5,178.0 580.5,181.4T580.4,188.2M585.8,174.7Q586.7,178.1 585.7,181.5T585.6,188.2M591.7,174.8Q592.5,178.2 591.5,181.6T591.3,188.4M596.9,174.9Q597.7,178.3 596.7,181.7T596.5,188.5M602.7,175.1Q603.5,178.5 602.5,181.8T602.3,188.6M607.9,175.2Q608.7,178.6 607.7,182.0T607.5,188.8M613.7,175.4Q614.5,178.8 613.5,182.2T613.2,189.0M618.9,175.6Q619.7,179.0 618.7,182.3T618.4,189.1M624.7,175.8Q625.5,179.2 624.5,182.6T624.2,189.3M629.9,176.0Q630.7,179.4 629.6,182.8T629.4,189.5M635.7,176.2Q636.5,179.6 635.4,183.0T635.1,189.8M640.9,176.4Q641.7,179.8 640.6,183.2T640.3,190.0M646.7,176.7Q647.5,180.1 646.4,183.5T646.1,190.3M651.9,176.9Q652.7,180.4 651.6,183.7T651.3,190.5M657.8,177.2Q658.5,180.7 657.4,184.0T657.0,190.8M662.9,177.5Q663.7,180.9 662.6,184.3T662.2,191.1M668.8,177.8Q669.5,181.2 668.4,184.6T668.0,191.4M674.0,178.1Q674.7,181.5 673.6,184.9T673.2,191.7M679.8,178.4Q680.5,181.9 679.4,185.2T678.9,192.0M685.0,178.7Q685.7,182.2 684.5,185.5T684.1,192.3M690.8,179.1Q691.5,182.6 690.3,185.9T689.9,192.7M696.0,179.4Q696.7,182.9 695.5,186.2T695.1,193.0M701.8,179.8Q702.5,183.3 701.3,186.6T700.8,193.4M707.0,180.2Q707.7,183.6 706.5,187.0T706.0,193.8M712.8,180.6Q713.5,184.1 712.3,187.4T711.8,194.2M718.0,181.0Q718.7,184.4 717.5,187.8T717.0,194.6M723.8,181.4Q724.4,184.9 723.2,188.2T722.7,195.0M728.9,181.8Q729.6,185.3 728.4,188.6T727.9,195.4M734.8,182.3Q735.4,185.8 734.2,189.1T733.6,195.9M739.9,182.7Q740.6,186.2 739.4,189.5T738.8,196.3M745.7,183.2Q746.4,186.7 745.2,190.0T744.6,196.8M750.9,183.7Q751.6,187.1 750.3,190.4T749.8,197.2M759.5,184.4Q760.1,187.9 758.9,191.2T758.3,198.0M764.7,184.9Q765.3,188.4 764.1,191.7T763.4,198.4M770.5,185.4Q771.1,188.9 769.8,192.2T769.2,199.0M775.7,185.9Q776.3,189.4 775.0,192.7T774.4,199.5M781.5,186.5Q782.1,190.0 780.8,193.3T780.1,200.0M786.6,187.0Q787.2,190.5 786.0,193.8T785.3,200.6M792.4,187.6Q793.0,191.1 791.7,194.4T791.0,201.1M797.6,188.1Q798.2,191.6 796.9,194.9T796.2,201.7M803.4,188.8Q804.0,192.2 802.7,195.5T801.9,202.3M808.6,189.3Q809.1,192.8 807.8,196.1T807.1,202.8M814.4,190.0Q814.9,193.4 813.6,196.7T812.8,203.5M819.5,190.5Q820.1,194.0 818.8,197.3T818.0,204.0M825.3,191.2Q825.9,194.7 824.5,197.9T823.7,204.7M830.5,191.8Q831.0,195.3 829.7,198.5T828.9,205.3M836.3,192.5Q836.8,196.0 835.5,199.2T834.6,206.0M841.4,193.1Q842.0,196.6 840.6,199.8T839.8,206.6M847.2,193.8Q847.7,197.3 846.4,200.5T845.5,207.3M852.4,194.4Q852.9,197.9 851.5,201.2T850.7,207.9M858.2,195.2Q858.7,198.7 857.3,201.9T856.4,208.7M863.3,195.8Q863.8,199.3 862.4,202.6T861.6,209.3M869.1,196.6Q869.6,200.1 868.2,203.3T867.3,210.1M874.2,197.3Q874.7,200.8 873.3,204.0T872.5,210.8M880.0,198.0Q880.5,201.5 879.1,204.8T878.2,211.5M885.2,198.8Q885.6,202.2 884.2,205.5T883.3,212.2M890.9,199.6Q891.4,203.1 890.0,206.3T889.0,213.0M896.1,200.3Q896.6,203.8 895.1,207.0T894.2,213.7M901.9,201.1Q902.3,204.6 900.9,207.8T899.9,214.6M907.0,201.9Q907.5,205.4 906.0,208.6T905.0,215.3M912.8,202.7Q913.2,206.2 911.8,209.4T910.7,216.2M917.9,203.5Q918.3,207.0 916.9,210.2T915.9,216.9M923.7,204.3Q924.1,207.9 922.6,211.1T921.6,217.8M928.8,205.1Q929.2,208.6 927.8,211.9T926.7,218.6M934.6,206.0Q935.0,209.5 933.5,212.8T932.4,219.5M939.7,206.9Q940.1,210.4 938.6,213.6T937.6,220.3M945.4,207.8Q945.8,211.3 944.3,214.5T943.2,221.2M950.6,208.6Q951.0,212.1 949.5,215.3T948.4,222.0M956.3,209.6Q956.7,213.1 955.2,216.3T954.1,223.0M961.4,210.4Q961.8,213.9 960.3,217.1T959.2,223.8M967.2,211.4Q967.5,214.9 966.0,218.1T964.9,224.8M972.3,212.3Q972.7,215.8 971.1,219.0T970.0,225.7M978.0,213.3Q978.4,216.8 976.8,220.0T975.7,226.7M983.2,214.2Q983.5,217.7 982.0,220.9T980.8,227.6M988.9,215.3Q989.2,218.8 987.7,222.0T986.4,228.6M994.0,216.2Q994.3,219.7 992.8,222.9T991.5,229.6M999.7,217.3Q1000.0,220.8 998.5,224.0T997.2,230.6M1004.8,218.2Q1005.1,221.8 1003.6,224.9T1002.3,231.6M1010.6,219.3Q1010.8,222.9 1009.3,226.0T1007.9,232.7M1015.7,220.3Q1015.9,223.9 1014.4,227.0T1013.1,233.7M1021.4,221.5Q1021.6,225.0 1020.0,228.1T1018.7,234.8M1026.5,222.5Q1026.7,226.0 1025.1,229.2T1023.8,235.8M1032.2,223.7Q1032.4,227.2 1030.8,230.3T1029.4,237.0M1037.3,224.7Q1037.5,228.2 1035.9,231.4T1034.5,238.0M1043.0,225.9Q1043.2,229.4 1041.5,232.6T1040.1,239.2M1048.0,227.0Q1048.3,230.5 1046.6,233.6T1045.2,240.3M1053.7,228.2Q1053.9,231.8 1052.3,234.9T1050.8,241.5M1058.8,229.4Q1059.0,232.9 1057.3,236.0T1055.9,242.6M1064.5,230.6Q1064.6,234.2 1063.0,237.3T1061.5,243.9M1069.5,231.8Q1069.7,235.3 1068.0,238.4T1066.5,245.0M1075.2,233.1Q1075.4,236.6 1073.7,239.7T1072.1,246.3M1080.3,234.3Q1080.4,237.8 1078.7,240.9T1077.2,247.5M1085.9,235.6Q1086.0,239.2 1084.3,242.2T1082.7,248.9M1091.0,236.9Q1091.1,240.4 1089.4,243.5T1087.8,250.1M1096.6,238.3Q1096.7,241.8 1095.0,244.9T1093.3,251.4M1101.7,239.5Q1101.8,243.1 1100.0,246.1T1098.4,252.7M1107.3,241.0Q1107.4,244.5 1105.6,247.5T1103.9,254.1M1112.3,242.3Q1112.4,245.8 1110.6,248.9T1108.9,255.4M1117.9,243.8Q1118.0,247.3 1116.2,250.3T1114.4,256.9M1123.0,245.1Q1123.0,248.6 1121.2,251.7T1119.4,258.2M1128.6,246.6Q1128.6,250.2 1126.8,253.2T1124.9,259.7M1133.6,248.0Q1133.6,251.6 1131.8,254.6T1129.9,261.1M1139.2,249.6Q1139.1,253.1 1137.3,256.1T1135.4,262.7M1144.2,251.0Q1144.1,254.6 1142.3,257.6T1140.4,264.1"/></defs>
<use href="#tails1" fill="none" stroke="#fff" stroke-opacity="0.8" stroke-width="4.3" stroke-linecap="round"/>
<use href="#tails1" fill="none" stroke="#8c8c8c" stroke-width="2.0" stroke-linecap="round"/>
<g fill="#fbb400" stroke="#b97a10" stroke-width="1.1"><circle cx="-17.0" cy="246.9" r="3.8"/><circle cx="-6.3" cy="244.0" r="3.8"/><circle cx="4.3" cy="241.1" r="3.8"/><circle cx="15.0" cy="238.3" r="3.8"/><circle cx="25.7" cy="235.5" r="3.8"/><circle cx="36.4" cy="232.8" r="3.8"/><circle cx="47.1" cy="230.2" r="3.8"/><circle cx="57.8" cy="227.6" r="3.8"/><circle cx="68.6" cy="225.1" r="3.8"/><circle cx="79.3" cy="222.6" r="3.8"/><circle cx="90.1" cy="220.2" r="3.8"/><circle cx="100.9" cy="217.8" r="3.8"/><circle cx="111.7" cy="215.5" r="3.8"/><circle cx="122.5" cy="213.3" r="3.8"/><circle cx="133.3" cy="211.1" r="3.8"/><circle cx="144.2" cy="208.9" r="3.8"/><circle cx="155.0" cy="206.9" r="3.8"/><circle cx="165.9" cy="204.8" r="3.8"/><circle cx="176.7" cy="202.9" r="3.8"/><circle cx="187.6" cy="201.0" r="3.8"/><circle cx="198.5" cy="199.1" r="3.8"/><circle cx="209.4" cy="197.3" r="3.8"/><circle cx="220.3" cy="195.6" r="3.8"/><circle cx="231.2" cy="193.9" r="3.8"/><circle cx="242.1" cy="192.3" r="3.8"/><circle cx="253.0" cy="190.7" r="3.8"/><circle cx="264.0" cy="189.2" r="3.8"/><circle cx="274.9" cy="187.8" r="3.8"/><circle cx="285.9" cy="186.4" r="3.8"/><circle cx="296.8" cy="185.0" r="3.8"/><circle cx="307.8" cy="183.8" r="3.8"/><circle cx="318.8" cy="182.5" r="3.8"/><circle cx="329.7" cy="181.4" r="3.8"/><circle cx="340.7" cy="180.3" r="3.8"/><circle cx="351.7" cy="179.3" r="3.8"/><circle cx="362.7" cy="178.3" r="3.8"/><circle cx="373.7" cy="177.4" r="3.8"/><circle cx="384.7" cy="176.5" r="3.8"/><circle cx="395.7" cy="175.7" r="3.8"/><circle cx="406.8" cy="175.0" r="3.8"/><circle cx="417.8" cy="174.3" r="3.8"/><circle cx="428.8" cy="173.7" r="3.8"/><circle cx="439.8" cy="173.1" r="3.8"/><circle cx="450.8" cy="172.6" r="3.8"/><circle cx="461.9" cy="172.2" r="3.8"/><circle cx="472.9" cy="171.8" r="3.8"/><circle cx="483.9" cy="171.5" r="3.8"/><circle cx="495.0" cy="171.2" r="3.8"/><circle cx="506.0" cy="171.0" r="3.8"/><circle cx="517.1" cy="170.8" r="3.8"/><circle cx="583.3" cy="171.1" r="3.8"/><circle cx="594.3" cy="171.3" r="3.8"/><circle cx="605.4" cy="171.6" r="3.8"/><circle cx="616.4" cy="172.0" r="3.8"/><circle cx="627.4" cy="172.4" r="3.8"/><circle cx="638.5" cy="172.8" r="3.8"/><circle cx="649.5" cy="173.3" r="3.8"/><circle cx="660.5" cy="173.8" r="3.8"/><circle cx="671.6" cy="174.4" r="3.8"/><circle cx="682.6" cy="175.1" r="3.8"/><circle cx="693.6" cy="175.8" r="3.8"/><circle cx="704.6" cy="176.5" r="3.8"/><circle cx="715.6" cy="177.3" r="3.8"/><circle cx="726.6" cy="178.1" r="3.8"/><circle cx="737.6" cy="179.0" r="3.8"/><circle cx="748.6" cy="179.9" r="3.8"/><circle cx="762.4" cy="181.2" r="3.8"/><circle cx="773.4" cy="182.2" r="3.8"/><circle cx="784.4" cy="183.3" r="3.8"/><circle cx="795.4" cy="184.4" r="3.8"/><circle cx="806.4" cy="185.6" r="3.8"/><circle cx="817.3" cy="186.8" r="3.8"/><circle cx="828.3" cy="188.0" r="3.8"/><circle cx="839.3" cy="189.3" r="3.8"/><circle cx="850.2" cy="190.6" r="3.8"/><circle cx="861.2" cy="192.0" r="3.8"/><circle cx="872.1" cy="193.5" r="3.8"/><circle cx="883.1" cy="194.9" r="3.8"/><circle cx="894.0" cy="196.4" r="3.8"/><circle cx="904.9" cy="198.0" r="3.8"/><circle cx="915.9" cy="199.6" r="3.8"/><circle cx="926.8" cy="201.3" r="3.8"/><circle cx="937.7" cy="203.0" r="3.8"/><circle cx="948.6" cy="204.7" r="3.8"/><circle cx="959.5" cy="206.6" r="3.8"/><circle cx="970.3" cy="208.4" r="3.8"/><circle cx="981.2" cy="210.3" r="3.8"/><circle cx="992.1" cy="212.3" r="3.8"/><circle cx="1002.9" cy="214.3" r="3.8"/><circle cx="1013.8" cy="216.4" r="3.8"/><circle cx="1024.6" cy="218.5" r="3.8"/><circle cx="1035.4" cy="220.8" r="3.8"/><circle cx="1046.2" cy="223.0" r="3.8"/><circle cx="1057.0" cy="225.4" r="3.8"/><circle cx="1067.8" cy="227.8" r="3.8"/><circle cx="1078.5" cy="230.3" r="3.8"/><circle cx="1089.3" cy="232.8" r="3.8"/><circle cx="1100.0" cy="235.5" r="3.8"/><circle cx="1110.7" cy="238.2" r="3.8"/><circle cx="1121.4" cy="241.0" r="3.8"/><circle cx="1132.0" cy="244.0" r="3.8"/><circle cx="1142.6" cy="247.0" r="3.8"/></g>
<defs><path id="tails2" d="M-15.3,306.2Q-17.2,303.2 -17.2,299.7T-19.0,293.2M-10.3,304.8Q-12.2,301.8 -12.2,298.3T-14.0,291.7M-4.8,303.3Q-6.7,300.3 -6.6,296.7T-8.5,290.2M0.2,301.9Q-1.6,298.9 -1.6,295.3T-3.5,288.8M5.7,300.4Q3.9,297.4 3.9,293.8T2.1,287.3M10.7,299.0Q8.9,296.0 8.9,292.5T7.1,285.9M16.2,297.6Q14.4,294.5 14.4,291.0T12.7,284.4M21.2,296.2Q19.4,293.2 19.5,289.7T17.7,283.1M26.7,294.8Q24.9,291.7 25.0,288.2T23.3,281.6M31.8,293.5Q30.0,290.4 30.0,286.9T28.3,280.3M37.3,292.1Q35.5,289.0 35.6,285.5T33.9,278.9M42.3,290.8Q40.6,287.8 40.6,284.2T39.0,277.6M47.8,289.4Q46.1,286.4 46.2,282.8T44.6,276.2M52.9,288.2Q51.1,285.1 51.2,281.6T49.6,275.0M58.4,286.8Q56.7,283.8 56.8,280.2T55.2,273.6M63.5,285.6Q61.7,282.5 61.9,279.0T60.3,272.4M69.0,284.3Q67.3,281.2 67.4,277.7T65.9,271.1M74.1,283.1Q72.4,280.0 72.5,276.5T70.9,269.9M79.6,281.8Q77.9,278.7 78.1,275.2T76.6,268.6M84.7,280.7Q83.0,277.6 83.1,274.0T81.6,267.4M90.2,279.4Q88.5,276.3 88.7,272.8T87.2,266.1M95.3,278.3Q93.6,275.2 93.8,271.7T92.3,265.0M100.8,277.1Q99.2,273.9 99.4,270.4T97.9,263.8M105.9,276.0Q104.3,272.8 104.5,269.3T103.0,262.7M111.5,274.8Q109.8,271.6 110.1,268.1T108.7,261.5M116.6,273.7Q114.9,270.5 115.2,267.0T113.7,260.4M122.1,272.5Q120.5,269.4 120.8,265.9T119.4,259.2M127.2,271.5Q125.6,268.3 125.9,264.8T124.5,258.1M132.8,270.3Q131.2,267.2 131.5,263.7T130.1,257.0M137.9,269.3Q136.3,266.1 136.6,262.6T135.2,256.0M143.5,268.2Q141.9,265.0 142.2,261.5T140.9,254.8M148.6,267.2Q147.0,264.0 147.3,260.5T146.0,253.8M154.2,266.1Q152.6,262.9 152.9,259.4T151.6,252.7M159.3,265.1Q157.7,262.0 158.0,258.5T156.7,251.8M164.9,264.1Q163.3,260.9 163.6,257.4T162.4,250.7M170.0,263.1Q168.4,260.0 168.7,256.5T167.5,249.8M175.6,262.1Q174.0,258.9 174.4,255.4T173.2,248.7M180.7,261.2Q179.2,258.0 179.5,254.5T178.3,247.8M186.3,260.2Q184.8,257.0 185.1,253.5T184.0,246.8M191.4,259.3Q189.9,256.1 190.3,252.6T189.1,245.9M197.0,258.4Q195.5,255.2 195.9,251.7T194.8,244.9M202.2,257.5Q200.7,254.3 201.0,250.8T199.9,244.1M207.8,256.6Q206.3,253.4 206.7,249.8T205.6,243.1M212.9,255.7Q211.4,252.5 211.8,249.0T210.7,242.3M218.5,254.8Q217.0,251.6 217.5,248.1T216.4,241.4M223.7,254.0Q222.2,250.8 222.6,247.3T221.5,240.6M229.3,253.1Q227.8,249.9 228.2,246.4T227.2,239.7M234.4,252.4Q233.0,249.1 233.4,245.6T232.4,238.9M240.0,251.5Q238.6,248.3 239.1,244.8T238.1,238.1M245.2,250.8Q243.8,247.5 244.2,244.0T243.2,237.3M250.8,249.9Q249.4,246.7 249.9,243.2T248.9,236.5M256.0,249.2Q254.5,246.0 255.0,242.5T254.1,235.7M261.6,248.4Q260.2,245.2 260.7,241.7T259.8,235.0M266.8,247.7Q265.4,244.5 265.8,241.0T264.9,234.3M272.4,247.0Q271.0,243.7 271.5,240.2T270.6,233.5M277.5,246.3Q276.2,243.1 276.7,239.6T275.8,232.8M283.2,245.6Q281.8,242.3 282.3,238.8T281.5,232.1M288.3,244.9Q287.0,241.7 287.5,238.2T286.7,231.4M294.0,244.2Q292.6,241.0 293.2,237.5T292.4,230.7M299.2,243.6Q297.8,240.4 298.3,236.9T297.5,230.1M304.8,243.0Q303.5,239.7 304.0,236.2T303.3,229.4M310.0,242.4Q308.6,239.1 309.2,235.6T308.4,228.9M315.6,241.7Q314.3,238.5 314.9,235.0T314.1,228.2M320.8,241.2Q319.5,237.9 320.1,234.4T319.3,227.6M326.5,240.6Q325.2,237.3 325.7,233.8T325.0,227.0M331.6,240.0Q330.3,236.7 330.9,233.3T330.2,226.5M337.3,239.5Q336.0,236.2 336.6,232.7T336.0,225.9M342.5,238.9Q341.2,235.7 341.8,232.2T341.1,225.4M348.1,238.4Q346.9,235.1 347.5,231.6T346.9,224.9M353.3,237.9Q352.0,234.6 352.7,231.2T352.0,224.4M359.0,237.4Q357.7,234.1 358.4,230.6T357.8,223.9M364.1,237.0Q362.9,233.7 363.6,230.2T363.0,223.4M369.8,236.5Q368.6,233.2 369.3,229.7T368.7,222.9M375.0,236.0Q373.8,232.7 374.4,229.3T373.9,222.5M380.7,235.6Q379.5,232.3 380.1,228.8T379.6,222.0M385.9,235.2Q384.6,231.9 385.3,228.4T384.8,221.6M391.5,234.8Q390.3,231.5 391.0,228.0T390.6,221.2M396.7,234.4Q395.5,231.1 396.2,227.6T395.7,220.8M402.4,234.0Q401.2,230.7 401.9,227.2T401.5,220.4M407.6,233.7Q406.4,230.3 407.1,226.9T406.7,220.1M413.3,233.3Q412.1,230.0 412.8,226.5T412.4,219.7M418.4,233.0Q417.3,229.7 418.0,226.2T417.6,219.4M424.1,232.7Q423.0,229.3 423.7,225.9T423.4,219.1M429.3,232.4Q428.2,229.0 428.9,225.6T428.6,218.8M435.0,232.1Q433.9,228.7 434.7,225.3T434.3,218.5M440.2,231.8Q439.1,228.5 439.8,225.0T439.5,218.2M445.9,231.6Q444.8,228.2 445.6,224.8T445.3,218.0M451.1,231.3Q450.0,228.0 450.8,224.5T450.5,217.7M456.7,231.1Q455.7,227.7 456.5,224.3T456.2,217.5M461.9,230.9Q460.9,227.5 461.7,224.1T461.4,217.3M467.6,230.7Q466.6,227.3 467.4,223.9T467.2,217.1M472.8,230.5Q471.8,227.1 472.6,223.7T472.4,216.9M478.5,230.3Q477.5,226.9 478.3,223.5T478.1,216.7M483.7,230.2Q482.7,226.8 483.5,223.4T483.3,216.6M489.4,230.0Q488.4,226.6 489.2,223.2T489.1,216.4M494.6,229.9Q493.6,226.5 494.4,223.1T494.3,216.3M500.3,229.8Q499.3,226.4 500.2,223.0T500.0,216.2M505.5,229.7Q504.5,226.3 505.4,222.9T505.2,216.1M511.2,229.6Q510.2,226.2 511.1,222.8T511.0,216.0M516.4,229.5Q515.4,226.1 516.3,222.7T516.2,215.9M522.1,229.4Q521.1,226.1 522.0,222.6T521.9,215.8M527.3,229.4Q526.3,226.0 527.2,222.6T527.1,215.8M576.5,229.6Q575.6,226.2 576.6,222.8T576.7,216.0M581.7,229.7Q580.8,226.3 581.8,222.9T581.9,216.1M587.4,229.8Q586.5,226.4 587.5,223.0T587.7,216.2M592.6,229.9Q591.7,226.5 592.7,223.1T592.9,216.3M598.3,230.0Q597.4,226.6 598.4,223.2T598.6,216.4M603.5,230.2Q602.6,226.8 603.6,223.4T603.8,216.6M609.1,230.3Q608.3,226.9 609.4,223.5T609.6,216.7M614.3,230.5Q613.5,227.1 614.5,223.7T614.8,216.9M620.0,230.7Q619.2,227.3 620.3,223.9T620.5,217.1M625.2,230.9Q624.4,227.4 625.5,224.1T625.7,217.3M630.9,231.1Q630.1,227.7 631.2,224.3T631.4,217.5M636.1,231.3Q635.3,227.9 636.4,224.5T636.6,217.7M641.8,231.5Q641.0,228.1 642.1,224.8T642.4,218.0M647.0,231.8Q646.2,228.3 647.3,225.0T647.6,218.2M652.7,232.0Q651.9,228.6 653.0,225.3T653.3,218.5M657.8,232.3Q657.1,228.9 658.2,225.5T658.5,218.7M663.5,232.6Q662.8,229.2 663.9,225.8T664.3,219.0M668.7,232.9Q668.0,229.4 669.1,226.1T669.5,219.3M674.4,233.2Q673.6,229.7 674.8,226.4T675.2,219.6M679.6,233.5Q678.8,230.1 680.0,226.7T680.4,219.9M685.3,233.8Q684.5,230.4 685.7,227.1T686.1,220.3M690.4,234.2Q689.7,230.7 690.9,227.4T691.3,220.6M696.1,234.5Q695.4,231.1 696.6,227.8T697.0,221.0M701.3,234.9Q700.6,231.4 701.8,228.1T702.2,221.3M707.0,235.3Q706.3,231.8 707.5,228.5T708.0,221.7M712.2,235.7Q711.5,232.2 712.7,228.9T713.1,222.1M717.8,236.1Q717.1,232.6 718.4,229.3T718.9,222.5M723.0,236.5Q722.3,233.0 723.5,229.7T724.1,222.9M728.7,236.9Q728.0,233.5 729.2,230.1T729.8,223.4M733.9,237.3Q733.2,233.9 734.4,230.6T735.0,223.8M739.5,237.8Q738.9,234.3 740.1,231.0T740.7,224.3M744.7,238.2Q744.1,234.8 745.3,231.5T745.9,224.7M750.4,238.7Q749.7,235.3 751.0,232.0T751.6,225.2M755.6,239.2Q754.9,235.7 756.2,232.4T756.8,225.7M761.2,239.7Q760.6,236.2 761.9,232.9T762.5,226.2M766.4,240.2Q765.8,236.7 767.0,233.4T767.7,226.7M772.1,240.7Q771.4,237.3 772.7,234.0T773.4,227.2M777.2,241.2Q776.6,237.8 777.9,234.5T778.6,227.7M782.9,241.8Q782.3,238.3 783.6,235.0T784.3,228.3M788.1,242.3Q787.5,238.8 788.8,235.6T789.4,228.8M793.7,242.9Q793.1,239.4 794.4,236.1T795.2,229.4M798.9,243.5Q798.3,240.0 799.6,236.7T800.3,229.9M804.5,244.1Q804.0,240.6 805.3,237.3T806.0,230.5M809.7,244.6Q809.1,241.2 810.5,237.9T811.2,231.1M815.4,245.3Q814.8,241.8 816.1,238.5T816.9,231.8M820.5,245.9Q820.0,242.4 821.3,239.1T822.1,232.3M826.2,246.5Q825.6,243.0 827.0,239.8T827.8,233.0M831.3,247.1Q830.8,243.6 832.1,240.4T832.9,233.6M837.0,247.8Q836.5,244.3 837.8,241.0T838.6,234.3M842.1,248.4Q841.6,244.9 843.0,241.7T843.8,234.9M847.8,249.1Q847.3,245.6 848.6,242.4T849.5,235.6M852.9,249.8Q852.4,246.3 853.8,243.0T854.7,236.3M858.6,250.5Q858.1,247.0 859.5,243.8T860.3,237.0M863.7,251.2Q863.2,247.7 864.6,244.4T865.5,237.7M869.4,251.9Q868.9,248.4 870.3,245.2T871.2,238.5M874.5,252.6Q874.0,249.1 875.4,245.9T876.3,239.2M880.2,253.4Q879.7,249.9 881.1,246.7T882.0,239.9M885.3,254.1Q884.8,250.6 886.2,247.4T887.2,240.6M890.9,254.9Q890.5,251.4 891.9,248.2T892.9,241.5M896.1,255.7Q895.6,252.2 897.1,248.9T898.0,242.2M901.7,256.5Q901.3,253.0 902.7,249.7T903.7,243.0M906.9,257.2Q906.4,253.7 907.9,250.5T908.8,243.8M912.5,258.1Q912.1,254.6 913.5,251.4T914.5,244.6M917.6,258.9Q917.2,255.4 918.6,252.1T919.7,245.4M923.2,259.7Q922.8,256.2 924.3,253.0T925.3,246.3M928.4,260.5Q928.0,257.0 929.4,253.8T930.5,247.1M934.0,261.4Q933.6,257.9 935.1,254.7T936.2,248.0M939.1,262.3Q938.7,258.8 940.2,255.6T941.3,248.8M944.7,263.2Q944.4,259.7 945.9,256.5T947.0,249.8M949.9,264.0Q949.5,260.5 951.0,257.3T952.1,250.6M955.5,265.0Q955.1,261.5 956.6,258.3T957.8,251.6M960.6,265.9Q960.2,262.4 961.7,259.2T962.9,252.5M966.2,266.9Q965.9,263.3 967.4,260.2T968.6,253.5M971.3,267.8Q971.0,264.2 972.5,261.1T973.7,254.4M976.9,268.8Q976.6,265.2 978.1,262.1T979.4,255.4M982.0,269.7Q981.7,266.2 983.3,263.0T984.5,256.3M987.6,270.7Q987.3,267.2 988.9,264.0T990.1,257.4M992.7,271.7Q992.4,268.2 994.0,265.0T995.2,258.3M998.3,272.7Q998.0,269.2 999.6,266.1T1000.9,259.4M1003.4,273.7Q1003.1,270.2 1004.7,267.1T1006.0,260.4M1009.0,274.8Q1008.7,271.3 1010.3,268.2T1011.7,261.5M1014.1,275.8Q1013.8,272.3 1015.4,269.2T1016.8,262.5M1019.7,277.0Q1019.4,273.4 1021.1,270.3T1022.4,263.6M1024.8,278.0Q1024.5,274.5 1026.2,271.3T1027.5,264.7M1030.4,279.2Q1030.1,275.6 1031.8,272.5T1033.2,265.9M1035.4,280.2Q1035.2,276.7 1036.9,273.6T1038.3,266.9M1041.0,281.4Q1040.8,277.9 1042.5,274.8T1043.9,268.1M1046.1,282.5Q1045.9,279.0 1047.5,275.9T1049.0,269.2M1051.7,283.8Q1051.5,280.2 1053.1,277.1T1054.6,270.5M1056.7,284.9Q1056.5,281.4 1058.2,278.3T1059.7,271.6M1062.3,286.2Q1062.1,282.6 1063.8,279.5T1065.3,272.9M1067.3,287.3Q1067.2,283.8 1068.9,280.7T1070.4,274.1M1072.9,288.6Q1072.8,285.1 1074.5,282.0T1076.0,275.4M1077.9,289.8Q1077.8,286.3 1079.5,283.2T1081.1,276.6M1083.5,291.2Q1083.4,287.7 1085.1,284.6T1086.7,278.0M1088.5,292.4Q1088.4,288.9 1090.2,285.8T1091.8,279.2M1094.1,293.8Q1094.0,290.3 1095.7,287.2T1097.4,280.6M1099.1,295.1Q1099.0,291.6 1100.8,288.5T1102.4,281.9M1104.6,296.5Q1104.6,293.0 1106.3,289.9T1108.1,283.4M1109.6,297.8Q1109.6,294.3 1111.4,291.3T1113.1,284.7M1115.1,299.3Q1115.1,295.8 1116.9,292.7T1118.7,286.2M1120.2,300.7Q1120.1,297.1 1121.9,294.1T1123.7,287.5M1125.7,302.2Q1125.7,298.7 1127.5,295.6T1129.3,289.1M1130.7,303.6Q1130.7,300.1 1132.5,297.0T1134.3,290.5M1136.1,305.2Q1136.2,301.6 1138.0,298.6T1139.9,292.1M1141.1,306.6Q1141.2,303.1 1143.0,300.1T1144.9,293.5M1146.6,308.2Q1146.7,304.7 1148.6,301.7T1150.5,295.2M1151.6,309.7Q1151.7,306.2 1153.5,303.2T1155.5,296.7"/></defs>
<use href="#tails2" fill="none" stroke="#fff" stroke-opacity="0.8" stroke-width="4.3" stroke-linecap="round"/>
<use href="#tails2" fill="none" stroke="#8c8c8c" stroke-width="2.0" stroke-linecap="round"/>
<g fill="#fbb400" stroke="#b97a10" stroke-width="1.1"><circle cx="-11.9" cy="308.9" r="3.8"/><circle cx="-1.4" cy="306.0" r="3.8"/><circle cx="9.1" cy="303.1" r="3.8"/><circle cx="19.6" cy="300.3" r="3.8"/><circle cx="30.1" cy="297.5" r="3.8"/><circle cx="40.6" cy="294.8" r="3.8"/><circle cx="51.2" cy="292.2" r="3.8"/><circle cx="61.7" cy="289.6" r="3.8"/><circle cx="72.3" cy="287.1" r="3.8"/><circle cx="82.9" cy="284.7" r="3.8"/><circle cx="93.5" cy="282.3" r="3.8"/><circle cx="104.1" cy="279.9" r="3.8"/><circle cx="114.8" cy="277.6" r="3.8"/><circle cx="125.4" cy="275.4" r="3.8"/><circle cx="136.0" cy="273.2" r="3.8"/><circle cx="146.7" cy="271.1" r="3.8"/><circle cx="157.4" cy="269.1" r="3.8"/><circle cx="168.1" cy="267.1" r="3.8"/><circle cx="178.8" cy="265.1" r="3.8"/><circle cx="189.5" cy="263.2" r="3.8"/><circle cx="200.2" cy="261.4" r="3.8"/><circle cx="210.9" cy="259.6" r="3.8"/><circle cx="221.6" cy="257.9" r="3.8"/><circle cx="232.4" cy="256.2" r="3.8"/><circle cx="243.1" cy="254.6" r="3.8"/><circle cx="253.9" cy="253.0" r="3.8"/><circle cx="264.6" cy="251.5" r="3.8"/><circle cx="275.4" cy="250.1" r="3.8"/><circle cx="286.2" cy="248.7" r="3.8"/><circle cx="297.0" cy="247.4" r="3.8"/><circle cx="307.8" cy="246.1" r="3.8"/><circle cx="318.6" cy="244.9" r="3.8"/><circle cx="329.4" cy="243.8" r="3.8"/><circle cx="340.2" cy="242.7" r="3.8"/><circle cx="351.0" cy="241.6" r="3.8"/><circle cx="361.9" cy="240.7" r="3.8"/><circle cx="372.7" cy="239.8" r="3.8"/><circle cx="383.5" cy="238.9" r="3.8"/><circle cx="394.4" cy="238.1" r="3.8"/><circle cx="405.2" cy="237.3" r="3.8"/><circle cx="416.1" cy="236.7" r="3.8"/><circle cx="426.9" cy="236.0" r="3.8"/><circle cx="437.8" cy="235.5" r="3.8"/><circle cx="448.6" cy="234.9" r="3.8"/><circle cx="459.5" cy="234.5" r="3.8"/><circle cx="470.3" cy="234.1" r="3.8"/><circle cx="481.2" cy="233.7" r="3.8"/><circle cx="492.1" cy="233.4" r="3.8"/><circle cx="502.9" cy="233.2" r="3.8"/><circle cx="513.8" cy="233.0" r="3.8"/><circle cx="524.7" cy="232.9" r="3.8"/><circle cx="579.0" cy="233.1" r="3.8"/><circle cx="589.9" cy="233.4" r="3.8"/><circle cx="600.8" cy="233.6" r="3.8"/><circle cx="611.6" cy="233.9" r="3.8"/><circle cx="622.5" cy="234.3" r="3.8"/><circle cx="633.4" cy="234.7" r="3.8"/><circle cx="644.2" cy="235.2" r="3.8"/><circle cx="655.1" cy="235.7" r="3.8"/><circle cx="665.9" cy="236.2" r="3.8"/><circle cx="676.8" cy="236.8" r="3.8"/><circle cx="687.6" cy="237.5" r="3.8"/><circle cx="698.5" cy="238.2" r="3.8"/><circle cx="709.3" cy="239.0" r="3.8"/><circle cx="720.2" cy="239.8" r="3.8"/><circle cx="731.0" cy="240.6" r="3.8"/><circle cx="741.8" cy="241.5" r="3.8"/><circle cx="752.7" cy="242.5" r="3.8"/><circle cx="763.5" cy="243.4" r="3.8"/><circle cx="774.3" cy="244.5" r="3.8"/><circle cx="785.1" cy="245.5" r="3.8"/><circle cx="795.9" cy="246.7" r="3.8"/><circle cx="806.7" cy="247.8" r="3.8"/><circle cx="817.5" cy="249.0" r="3.8"/><circle cx="828.3" cy="250.3" r="3.8"/><circle cx="839.1" cy="251.6" r="3.8"/><circle cx="849.9" cy="252.9" r="3.8"/><circle cx="860.7" cy="254.3" r="3.8"/><circle cx="871.5" cy="255.7" r="3.8"/><circle cx="882.3" cy="257.2" r="3.8"/><circle cx="893.0" cy="258.7" r="3.8"/><circle cx="903.8" cy="260.3" r="3.8"/><circle cx="914.5" cy="261.9" r="3.8"/><circle cx="925.3" cy="263.6" r="3.8"/><circle cx="936.0" cy="265.3" r="3.8"/><circle cx="946.7" cy="267.1" r="3.8"/><circle cx="957.4" cy="268.9" r="3.8"/><circle cx="968.1" cy="270.8" r="3.8"/><circle cx="978.8" cy="272.7" r="3.8"/><circle cx="989.5" cy="274.6" r="3.8"/><circle cx="1000.2" cy="276.7" r="3.8"/><circle cx="1010.9" cy="278.8" r="3.8"/><circle cx="1021.5" cy="280.9" r="3.8"/><circle cx="1032.2" cy="283.1" r="3.8"/><circle cx="1042.8" cy="285.4" r="3.8"/><circle cx="1053.4" cy="287.7" r="3.8"/><circle cx="1064.0" cy="290.2" r="3.8"/><circle cx="1074.6" cy="292.6" r="3.8"/><circle cx="1085.2" cy="295.2" r="3.8"/><circle cx="1095.7" cy="297.8" r="3.8"/><circle cx="1106.2" cy="300.6" r="3.8"/><circle cx="1116.7" cy="303.4" r="3.8"/><circle cx="1127.2" cy="306.3" r="3.8"/><circle cx="1137.7" cy="309.2" r="3.8"/><circle cx="1148.1" cy="312.3" r="3.8"/></g>
<path d="M220.3,227.0 L226.1,226.0 L232.0,225.1 L237.8,224.2 L243.7,223.4 L249.5,222.5 L255.4,221.7 L261.2,220.9 L267.1,220.1 L272.9,219.3 L278.8,218.5 L284.6,217.8 L290.5,217.0 L296.3,216.3 L302.2,215.6 L308.0,214.9 L313.9,214.3 L319.7,213.6 L325.6,213.0 L331.4,212.4 L337.3,211.8 L343.1,211.2 L349.0,210.6 L354.8,210.1 L360.7,209.6 L366.5,209.1 L372.4,208.6 L378.2,208.1 L384.1,207.7 L389.9,207.2 L395.8,206.8 L401.6,206.4 L407.5,206.0 L413.3,205.6 L419.2,205.3" fill="none" stroke="#fff" stroke-width="8.2"/>
<path d="M418.9,217.3 L438.8,204.1 L417.5,193.4 Z" fill="#fff" stroke="#fff" stroke-width="2.4" stroke-linejoin="miter"/>
<path d="M220.3,227.0 L226.1,226.0 L232.0,225.1 L237.8,224.2 L243.7,223.4 L249.5,222.5 L255.4,221.7 L261.2,220.9 L267.1,220.1 L272.9,219.3 L278.8,218.5 L284.6,217.8 L290.5,217.0 L296.3,216.3 L302.2,215.6 L308.0,214.9 L313.9,214.3 L319.7,213.6 L325.6,213.0 L331.4,212.4 L337.3,211.8 L343.1,211.2 L349.0,210.6 L354.8,210.1 L360.7,209.6 L366.5,209.1 L372.4,208.6 L378.2,208.1 L384.1,207.7 L389.9,207.2 L395.8,206.8 L401.6,206.4 L407.5,206.0 L413.3,205.6 L419.2,205.3" fill="none" stroke="#1d1d1b" stroke-width="5.8"/>
<path d="M418.9,217.3 L438.8,204.1 L417.5,193.4 Z" fill="#1d1d1b"/>
<path d="M887.0,226.8 L881.1,226.0 L875.3,225.2 L869.4,224.4 L863.6,223.6 L857.7,222.8 L851.8,222.1 L846.0,221.4 L840.1,220.6 L834.3,219.9 L828.4,219.2 L822.6,218.6 L816.7,217.9 L810.8,217.2 L805.0,216.6 L799.1,216.0 L793.3,215.3 L787.4,214.7 L781.5,214.1 L775.7,213.6 L769.8,213.0 L764.0,212.5 L758.1,211.9 L752.2,211.4 L746.4,210.9 L740.5,210.4 L734.7,209.9 L728.8,209.4 L723.0,208.9 L717.1,208.5 L711.2,208.1 L705.4,207.6 L699.5,207.2 L693.7,206.8 L687.8,206.5" fill="none" stroke="#fff" stroke-width="8.2"/>
<path d="M689.6,194.6 L668.2,205.2 L688.0,218.5 Z" fill="#fff" stroke="#fff" stroke-width="2.4" stroke-linejoin="miter"/>
<path d="M887.0,226.8 L881.1,226.0 L875.3,225.2 L869.4,224.4 L863.6,223.6 L857.7,222.8 L851.8,222.1 L846.0,221.4 L840.1,220.6 L834.3,219.9 L828.4,219.2 L822.6,218.6 L816.7,217.9 L810.8,217.2 L805.0,216.6 L799.1,216.0 L793.3,215.3 L787.4,214.7 L781.5,214.1 L775.7,213.6 L769.8,213.0 L764.0,212.5 L758.1,211.9 L752.2,211.4 L746.4,210.9 L740.5,210.4 L734.7,209.9 L728.8,209.4 L723.0,208.9 L717.1,208.5 L711.2,208.1 L705.4,207.6 L699.5,207.2 L693.7,206.8 L687.8,206.5" fill="none" stroke="#1d1d1b" stroke-width="5.8"/>
<path d="M689.6,194.6 L668.2,205.2 L688.0,218.5 Z" fill="#1d1d1b"/>
<path d="M122.6,146.5 Q123.2,141.8 127,141.8 L131,142 Q133.8,142.2 134.2,145 A42.0,42.0 0 0 0 167.3,179 L171.2,199 L200.2,366.3 L184.0,368.6 L155.6,201 L119.3,164.8 Z" fill="#0095de"/>
<path d="M987.6,150.2 Q987,144.3 983,144.3 L978,144.4 Q975.2,144.6 974.8,147.4 A42.0,42.0 0 0 1 939.9,180.6 L934.4,210 L906.0,366.4 L921.2,369.6 L939.7,270 L952.6,199.6 L989.4,167.2 Z" fill="#7b90cf"/>
<path d="M494.2,121 L499.4,102.5 Q500.6,99.3 504,99.3 L508,99.6 Q511.3,100 511.6,103.4 A40.4,40.4 0 0 0 539.2,143.0 L539.2,320.5 L523.4,320.5 L523.4,162 Z" fill="#0095de"/>
<path d="M610.4,121 L605.2,102.5 Q604,99.3 600.6,99.3 L596.6,99.6 Q593.3,100 593,103.4 A40.4,40.4 0 0 1 564.9,143.0 L564.9,320.5 L580.5,320.5 L580.5,162 Z" fill="#7b90cf"/>
<circle cx="316.7" cy="23.7" r="33.4" fill="#f05b60"/>
<circle cx="176.0" cy="138.0" r="33.4" fill="#f05b60"/>
<circle cx="552.2" cy="104.8" r="33.4" fill="#f05b60"/>
<ellipse cx="151.7" cy="325.0" rx="35.1" ry="25.7" fill="#cf5da0"/>
<ellipse cx="496.3" cy="283.8" rx="35.1" ry="25.7" fill="#cf5da0"/>
<ellipse cx="608.9" cy="283.8" rx="35.1" ry="25.7" fill="#6f5b7b"/>
<ellipse cx="953.1" cy="324.9" rx="35.1" ry="25.7" fill="#6f5b7b"/>
<path d="M549.0,213 H555.0 V357.5 H563.9 L552.0,378.2 L540.1,357.5 H549.0 Z" fill="#1d1d1b"/>
<path d="M548.9,438.8 H554.9 V495.4 H563.8 L551.9,515.6 L540.0,495.4 H548.9 Z" fill="#1d1d1b"/>
<text transform="translate(316.3,88.6) scale(0.803,1)" text-anchor="middle" font-size="30.5" fill="#1d1d1b" stroke="#1d1d1b" stroke-width="0.6">Typ-1-IFN</text>
<text transform="translate(184.5,418.5) scale(0.783,1)" text-anchor="middle" font-size="30.5" fill="#1d1d1b" stroke="#1d1d1b" stroke-width="0.6">IFNAR2</text>
<text transform="translate(917.7,418.5) scale(0.783,1)" text-anchor="middle" font-size="30.5" fill="#1d1d1b" stroke="#1d1d1b" stroke-width="0.6">IFNAR1</text>
<text transform="translate(552.2,418.6) scale(0.817,1)" text-anchor="middle" font-size="30.5" fill="#1d1d1b" stroke="#1d1d1b" stroke-width="0.6">intrazelluläre Signalkaskade</text>
<text transform="translate(552.2,552.7) scale(0.803,1)" text-anchor="middle" font-size="30.5" fill="#1d1d1b" stroke="#1d1d1b" stroke-width="0.6">Expression von</text>
<text transform="translate(552.1,587.4) scale(0.827,1)" text-anchor="middle" font-size="30.5" fill="#1d1d1b" stroke="#1d1d1b" stroke-width="0.6">IFN-regulierten Genen</text>
<text transform="translate(148.6,335.4) scale(0.706,1)" text-anchor="middle" font-size="30.5" fill="#fff" stroke="#fff" stroke-width="0.6">JAK1</text>
<text transform="translate(495.2,294.5) scale(0.706,1)" text-anchor="middle" font-size="30.5" fill="#fff" stroke="#fff" stroke-width="0.6">JAK1</text>
<text transform="translate(609.45,294.5) scale(0.772,1)" text-anchor="middle" font-size="30.5" fill="#fff" stroke="#fff" stroke-width="0.6">TYK2</text>
<text transform="translate(953.5,335.5) scale(0.775,1)" text-anchor="middle" font-size="30.5" fill="#fff" stroke="#fff" stroke-width="0.6">TYK2</text>
<rect x="19.9" y="673.1" width="51.5" height="21.2" fill="#ee1216"/>
<text transform="translate(57.7,691.2) scale(0.8,1)" text-anchor="middle" font-family="'Liberation Serif',serif" font-weight="bold" font-size="22.5" fill="#fff" stroke="#fff" stroke-width="0.5">PZ</text>
<text x="122.5" y="691.1" text-anchor="middle" font-family="'Liberation Serif',serif" font-size="23.5" letter-spacing="0.6" fill="#1d1d1b" stroke="#1d1d1b" stroke-width="0.45">GRAFIK</text>
</g>
</svg>
</body></html>
